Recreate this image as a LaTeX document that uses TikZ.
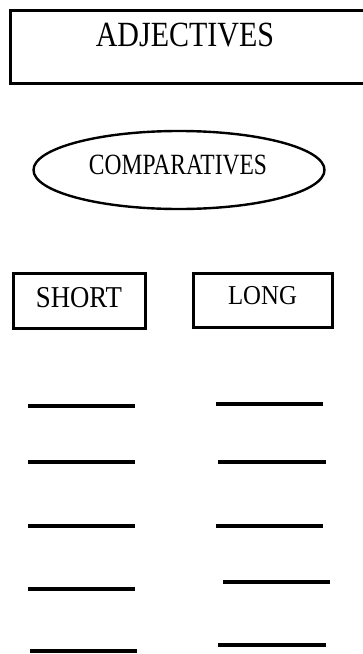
\documentclass[tikz,border=0pt]{standalone}
\usepackage{fontspec}
\setmainfont{Liberation Serif}
\usetikzlibrary{shapes.geometric}
\begin{document}
\begin{tikzpicture}[x=1pt,y=-1pt,
  frame/.style={draw, line width=3.2pt, inner sep=0pt},
  oval/.style={draw, ellipse, line width=2.4pt, inner sep=0pt},
  label/.style={inner sep=0pt, font=\fontsize{#1}{#1}\selectfont},
  blank/.style={line width=3.4pt}]
\useasboundingbox (0,0) rectangle (363,654);
\clip (0,0) rectangle (363,654);
\fill[white] (0,0) rectangle (363,654);

% title frame (runs off the right edge)
\node[frame, anchor=north west, minimum width=366pt, minimum height=73pt] (titlebox) at (9,9) {};
\node[label=30] (title) at (185,35.5) {\scalebox{1}[1.18]{ADJECTIVES}};

% comparatives oval
\node[oval, minimum width=291pt, minimum height=78pt] (comp) at (179,170) {};
\node[label=23.5] (comptext) at (178,165) {\scalebox{1}[1.25]{COMPARATIVES}};

% column headings
\node[frame, minimum width=132pt, minimum height=55pt] (short) at (79.5,301) {};
\node[label=26.8] (shorttext) at (79,298) {\scalebox{1}[1.13]{SHORT}};
\node[frame, minimum width=139pt, minimum height=54pt] (long) at (263,300.5) {};
\node[label=24.8] (longtext) at (262.5,296) {\scalebox{1}[1.1]{LONG}};

% answer lines, short column
\draw[blank] (28,406) -- (135,406);
\draw[blank] (28,462) -- (135,462);
\draw[blank] (28,526) -- (135,526);
\draw[blank] (28,589) -- (135,589);
\draw[blank] (30,651) -- (137,651);

% answer lines, long column
\draw[blank] (216,404) -- (323,404);
\draw[blank] (218,462) -- (326,462);
\draw[blank] (216,526) -- (323,526);
\draw[blank] (223,582) -- (330,582);
\draw[blank] (218,645) -- (326,645);
\end{tikzpicture}
\end{document}
